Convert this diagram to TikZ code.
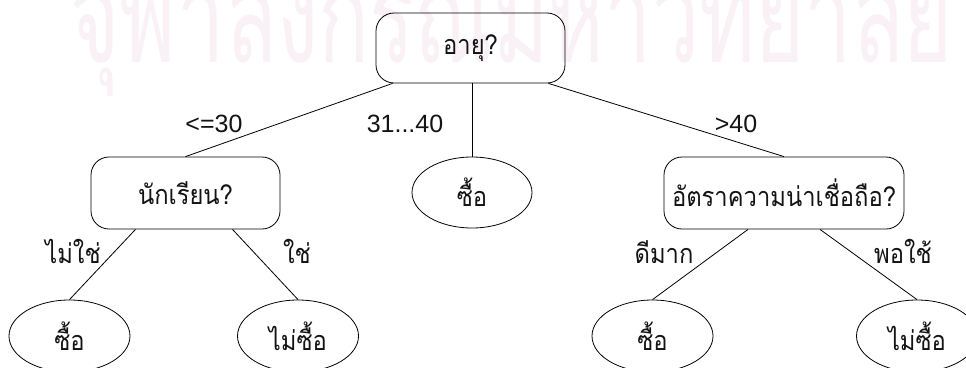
\documentclass[tikz,border=0pt]{standalone}
\usepackage{fontspec}
\setmainfont{Liberation Sans}
\newfontfamily\thaifont[Script=Thai]{Loma}
\usetikzlibrary{calc,shapes.geometric}
\definecolor{wm}{RGB}{250,241,246}
\definecolor{ink}{RGB}{20,20,20}
\newcommand{\thx}[1]{\scalebox{0.88}[1]{#1}}
\begin{document}
\begin{tikzpicture}[x=1pt,y=-1pt,
  line width=0.8pt,
  box/.style={draw, rounded corners=18pt, inner sep=0pt, text=ink,
    font=\thaifont\fontsize{27}{27}\selectfont},
  leaf/.style={draw, ellipse, inner sep=0pt, minimum width=121pt, minimum height=72pt,
    text=ink, font=\thaifont\fontsize{27}{27}\selectfont},
  lbl/.style={inner sep=0pt, text=ink, font=\fontsize{25}{25}\selectfont},
  tlbl/.style={inner sep=0pt, anchor=base, text=ink, font=\thaifont\fontsize{27}{27}\selectfont}]
\useasboundingbox (0,0) rectangle (966,367);
\fill[white] (0,0) rectangle (966,367);
\begin{scope}
\clip (0,0) rectangle (966,367);
\node[anchor=base west, inner sep=0pt, text=wm,
  font=\thaifont\fontsize{130}{130}\selectfont] (wmark) at (70,62)
  {\scalebox{0.65}[1]{จุฬาลงกรณ์มหาวิทยาลัย}};
\node[box, minimum width=189pt, minimum height=70pt] (root) at (470.5,48) {\thx{อายุ?}};
\node[box, minimum width=189pt, minimum height=72pt] (stud) at (185.5,193) {\thx{นักเรียน?}};
\node[box, minimum width=240pt, minimum height=72pt] (cred) at (784,193) {\thx{อัตราความน่าเชื่อถือ?}};
\node[leaf, minimum width=120pt, minimum height=71pt] (buy) at (472,192.5) {\thx{ซื้อ}};
\node[leaf] (l1) at (69.5,336) {\thx{ซื้อ}};
\node[leaf] (l2) at (298,336) {\thx{ไม่ซื้อ}};
\node[leaf] (l3) at (652.5,336) {\thx{ซื้อ}};
\node[leaf] (l4) at (917,336) {\thx{ไม่ซื้อ}};
\end{scope}
\draw ($(root.south west)+(17,0)$) -- (stud.north);
\draw (buy.north |- root.south) -- (buy.north);
\draw ($(root.south east)+(-17,0)$) -- (cred.north);
\draw ($(stud.south)+(-50,0)$) -- (l1.north);
\draw ($(stud.south)+(47,0)$) -- (l2.north);
\draw ($(cred.south)+(-36,0)$) -- (l3.north);
\draw ($(cred.south)+(36,0)$) -- (l4.north);
\node[lbl] (a1) at (214,124) {<=30};
\node[lbl] (a2) at (405,124) {31...40};
\node[lbl] (a3) at (736,124) {>40};
\node[tlbl] (b1) at (73,263) {\thx{ไม่ใช่}};
\node[tlbl] (b2) at (297,263) {\thx{ใช่}};
\node[tlbl] (b3) at (664,263) {\thx{ดีมาก}};
\node[tlbl] (b4) at (903,263) {\thx{พอใช้}};
\end{tikzpicture}
\end{document}
